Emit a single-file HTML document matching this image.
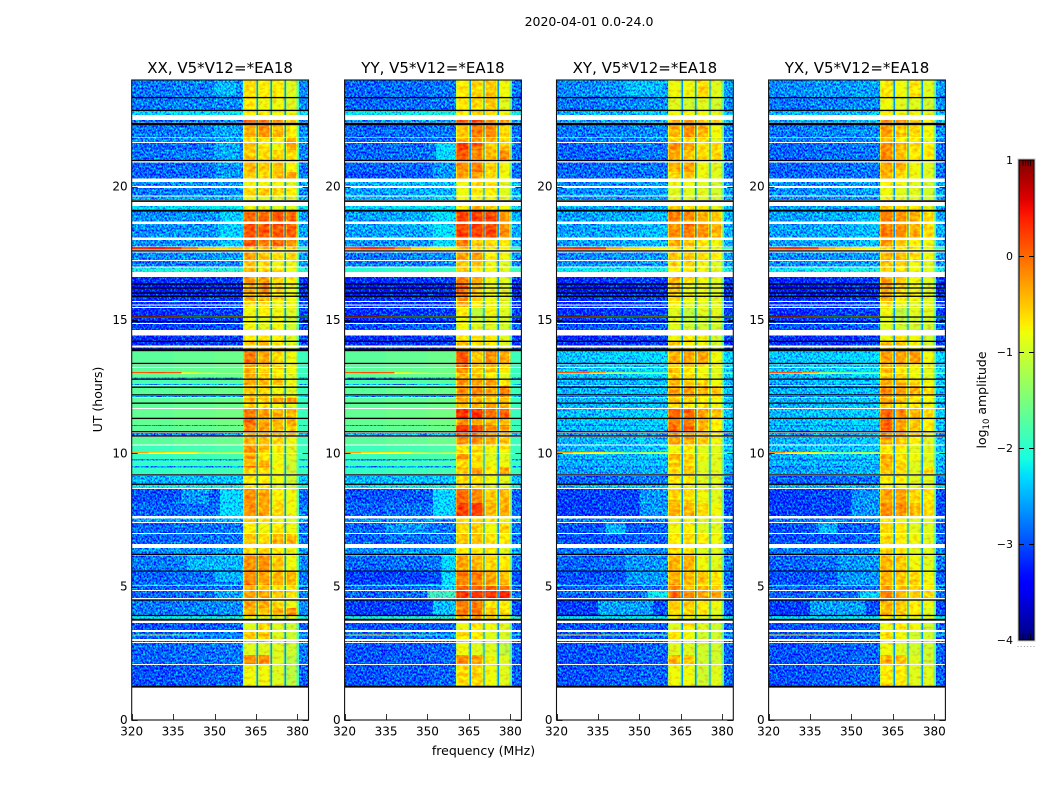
<!DOCTYPE html>
<html lang="en">
<head>
<meta charset="utf-8">
<title>2020-04-01 0.0-24.0</title>
<style>
html,body{margin:0;padding:0;background:#fff;width:1050px;height:800px;overflow:hidden}
svg{display:block}
text{font-family:"DejaVu Sans","Liberation Sans",sans-serif;fill:#000}
</style>
</head>
<body>
<svg id="figure" xmlns="http://www.w3.org/2000/svg" width="1050" height="800" viewBox="0 0 1050 800">
  <defs>
    <filter id="speckle" filterUnits="userSpaceOnUse" x="0" y="0" width="1050" height="800" color-interpolation-filters="sRGB">
      <feTurbulence type="fractalNoise" baseFrequency="0.55 0.5" numOctaves="2" seed="7" result="noise"/>
      <feColorMatrix in="noise" type="matrix" values="0 0 0 0 0.5  2.1 0 0 0 -0.55  0 0 0 0 0.5  0 0 0 0 1" result="gnoise"/>
      <feComposite in="gnoise" in2="SourceGraphic" operator="arithmetic" k1="0" k2="1" k3="1" k4="-0.5" result="mix"/>
      <feComposite in="mix" in2="SourceGraphic" operator="in"/>
    </filter>
    <filter id="ripple" filterUnits="userSpaceOnUse" x="0" y="0" width="1050" height="800" color-interpolation-filters="sRGB">
      <feTurbulence type="fractalNoise" baseFrequency="0.22 0.3" numOctaves="2" seed="11" result="noise"/>
      <feColorMatrix in="noise" type="matrix" values="0 0 0 0 0.5  0.7 0 0 0 0.15  0 0 0 0 0.5  0 0 0 0 1" result="gnoise"/>
      <feComposite in="gnoise" in2="SourceGraphic" operator="arithmetic" k1="0" k2="1" k3="1" k4="-0.5" result="mix"/>
      <feComposite in="mix" in2="SourceGraphic" operator="in"/>
    </filter>
    <linearGradient id="jet-gradient" x1="0" y1="1" x2="0" y2="0"></linearGradient>
  </defs>
  <text x="589" y="26" font-size="12.5" text-anchor="middle">2020-04-01 0.0-24.0</text>
  <text x="483.5" y="755" font-size="12.5" text-anchor="middle">frequency (MHz)</text>
  <text transform="translate(102 399.5) rotate(-90)" font-size="12.5" text-anchor="middle">UT (hours)</text>
  <g id="panels"></g>
  <g id="colorbar"></g>
  <text transform="translate(986 400) rotate(-90)" font-size="12.5" text-anchor="middle">log<tspan font-size="8.5" dy="3">10</tspan><tspan dy="-3"> amplitude</tspan></text>
</svg>
<script>
/* ---- chart data ---- */
const panelTitles = ["XX, V5*V12=*EA18","YY, V5*V12=*EA18","XY, V5*V12=*EA18","YX, V5*V12=*EA18"];
const xTickValues = [320,335,350,365,380];
const yTickValues = [0,5,10,15,20];
const colorbarTicks = [1,0,-1,-2,-3,-4];

/* frequency channels (MHz) */
const backgroundEdges = [320,335,350,356,360.3];
const backgroundShape = [-0.1,-0.05,0,0];
const subbandEdges = [[360.3,365.2],[365.7,370.2],[370.7,375.3],[375.8,380]];
const subbandRim = 0.45;
const subbandRimDrop = 0.35;
const bandCalibration = 0.1;
const notchEdges = [[365.2,365.7],[370.2,370.7],[375.3,375.8]];
const notchLevel = -2.65;
const edgeBand = [380,380.6];
const edgeLevel = -1.9;
const tailBand = [380.6,384];

/* observation rows: [start UT, end UT]; gaps between rows are missing data */
const rowsUT = [[23.98,23.36],[23.33,22.88],[22.84,22.69],[22.50,22.40],[22.31,21.87],[21.84,21.68],[21.64,21.38],[21.38,21.00],[20.91,20.55],[20.55,20.30],
[20.18,20.03],[19.95,19.67],[19.63,19.50],[19.28,19.13],[19.06,18.69],[18.60,18.10],[18.00,17.75],[17.74,17.65],[17.53,17.25],[17.22,17.01],
[16.97,16.80],[16.61,16.35],[16.35,16.01],[16.01,15.71],[15.68,15.58],[15.54,15.49],[15.45,15.15],[15.15,15.11],[15.08,14.89],[14.85,14.63],
[14.42,14.21],[14.18,14.04],[13.97,13.92],[13.83,13.38],[13.33,13.24],[13.20,13.05],[13.05,13.00],[12.98,12.85],[12.85,12.81],[12.75,12.60],
[12.60,12.56],[12.54,12.19],[12.15,12.11],[12.09,11.89],[11.85,11.70],[11.66,11.33],[11.29,11.06],[11.06,11.03],[11.03,10.84],[10.76,10.65],
[10.61,10.33],[10.29,10.05],[10.05,9.99],[9.98,9.79],[9.79,9.73],[9.73,9.53],[9.53,9.47],[9.47,9.23],[9.15,8.85],[8.81,8.70],
[8.66,8.14],[8.14,7.65],[7.56,7.43],[7.39,7.01],[6.98,6.60],[6.45,6.23],[6.17,5.59],[5.55,5.10],[5.10,5.04],[5.03,4.88],
[4.84,4.58],[4.50,4.20],[4.20,3.92],[3.92,3.79],[3.64,3.38],[3.30,3.21],[3.21,3.17],[3.17,3.03],[2.97,2.93],[2.89,2.44],
[2.44,2.10],[2.06,1.24]];

/* log10 amplitude per row: [background, sub-band 1, 2, 3, 4] */
const levelsXX = [
[-2.7,-.7,-.8,-.8,-1],[-2.7,-.8,-.9,-.9,-1],[-2.2,-.8,-.8,-.9,-.9],[-2.7,0,-.1,-.4,-.6],[-2.7,-.5,-.3,-.5,-.8],[-2.6,-.7,-.8,-.8,-.5],[-2.8,-.6,-.8,-.9,-.4],[-2.7,-.6,-.7,-.7,-.7],[-2.8,-.5,-.6,-.6,-.8],[-2.8,-.6,-.7,-.5,-.4],
[-2.6,-.9,-.9,-.9,-1],[-2.7,-.7,-.6,-.7,-.8],[-2.5,-.9,-1,-1,-1],[-2.2,-.9,-1,-1,-1],[-2.6,-.1,-.1,0,-.1],[-2.6,0,0,0,-.05],[-2.6,0,-.2,-.1,-.3],[-1,-.6,-.7,-.7,-.7],[-2.6,-.4,-.6,-.7,-.7],[-2.7,-.6,-.7,-.9,-.9],
[-2,-.5,-.7,-.8,-.9],[-3.1,-.4,-.4,-.7,-.8],[-3.2,-.5,-.3,-.7,-.9],[-3.1,-.5,-.5,-.7,-.9],[-3.1,-.7,-.7,-.9,-.9],[-3,-.8,-.8,-.9,-.9],[-3.1,-.9,-.8,-.9,-1],[-1,-.9,-.9,-.9,-1],[-3.1,-.9,-1,-.9,-1.1],[-3,-.9,-1,-.9,-1.1],
[-3.1,-.8,-.8,-.8,-1],[-3.1,-.6,-.5,-.8,-1],[-3,-.7,-.7,-.8,-1],[-1.6,-.2,-.4,-.7,-.9],[-1.6,-.4,-.5,-.7,-.9],[-1.6,-.5,-.7,-.8,-.9],[-1,-.4,-.6,-.8,-.9],[-1.6,-.5,-.7,-.8,-1],[-2.5,-.5,-.6,-.8,-1],[-1.7,-.4,-.5,-.6,-.9],
[-2.5,-.4,-.5,-.6,-.9],[-1.6,-.6,-.7,-.9,-1],[-2.6,-.6,-.6,-.7,-.9],[-1.6,-.5,-.6,-.4,-.3],[-1.6,-.7,-.8,-.9,-1],[-1.55,-.2,-.4,-.5,-.5],[-1.55,-.1,-.4,-.5,-.5],[-2.6,-.2,-.4,-.5,-.5],[-1.6,-.3,-.4,-.6,-.6],[-2.6,-.5,-.5,-.6,-.7],
[-1.6,-.5,-.6,-.7,-.9],[-1.8,-.3,-.5,-.8,-1],[-1,-.4,-.7,-.9,-1],[-1.85,-.4,-.8,-.9,-1],[-2.6,-.6,-.8,-.9,-1.1],[-1.85,-.5,-.5,-.9,-1.1],[-2.6,-.1,-.3,-.8,-1.1],[-1.85,-.7,-.7,-.9,-1.1],[-2.4,-.8,-.8,-.9,-1.1],[-2.1,-.8,-.8,-1,-1.1],
[-2.9,-.3,-.4,-.8,-.9],[-2.8,-.3,-.4,-.7,-.9],[-2.5,-.7,-.8,-.9,-1],[-2.8,-.8,-.9,-.8,-.9],[-2.8,-.6,-.7,-.5,-.5],[-2.6,-.7,-.7,-.8,-.9],[-2.7,-.3,-.3,-.6,-.9],[-2.8,-.3,-.4,-.5,-.5],[-2.6,-.1,-.3,-.4,-.5],[-2.8,-.5,-.6,-.8,-.8],
[-2.8,-.4,-.4,-.6,-.7],[-2.7,-.4,-.4,-.7,-.9],[-2.7,-.5,-.6,-.5,-.3],[-2.1,-.9,-1,-1,-1],[-2.9,-1,-.7,-1,-1.1],[-2.8,-.7,-.7,-1,-1.1],[-1.8,-.4,-.5,-1,-1.1],[-2.8,-.6,-.6,-1,-1.1],[-2.8,-.5,-.5,-1,-1.1],[-2.8,-1,-1,-1,-1.1],
[-2.8,-.3,-.3,-1,-1.2],[-2.9,-.9,-.9,-1,-1.2]];
const levelsYY = [
[-2.8,-.8,-.7,-.6,-.9],[-2.8,-.8,-.7,-.6,-1],[-2.1,-.8,-.7,-.7,-.9],[-2.6,0,.1,-.3,-.5],[-2.8,-.6,-.2,-.3,-.7],[-2.8,-.5,-.4,-.5,-.7],[-2.8,.1,-.1,-.6,-.6],[-2.8,0,-.3,-.5,-.3],[-2.8,-.3,-.2,-.6,-.9],[-2.9,-.4,-.4,-.7,-.9],
[-2.4,-.9,-.7,-.8,-1],[-2.5,-.9,-.8,-.8,-1],[-2.4,-.9,-.9,-.9,-1],[-2.2,-.8,-.5,-.7,-.9],[-2.5,.1,.1,.1,-.3],[-2.5,.1,.1,.1,-.3],[-2.6,-.2,-.6,-.7,-.8],[-1,-.7,-.8,-.9,-.9],[-2.7,-.4,-.4,-.8,-.9],[-2.7,-.6,-.6,-.9,-1],
[-1.9,-.7,-.8,-.9,-1],[-3.1,-.2,-.5,-.9,-1],[-3.2,-.1,-.6,-.9,-1],[-3.1,-.3,-.7,-.9,-1],[-3.1,-.4,-.8,-.9,-1],[-3,-.5,-.8,-.9,-1],[-3.1,-.8,-1.2,-.9,-1],[-1,-.9,-1,-.9,-1],[-3.1,-.9,-1.1,-1,-1.1],[-2.9,-.9,-1,-1,-1.1],
[-3.1,-.8,-.8,-.8,-1],[-3.1,-.5,-.7,-.8,-1],[-3,-.6,-.7,-.8,-1],[-1.6,0,-.6,-.3,-.4],[-1.6,-.1,-.5,-.5,-.7],[-1.6,-.3,-.6,-.6,-.8],[-1,-.4,-.7,-.8,-.9],[-1.6,-.5,-.6,-.8,-1],[-2.5,-.5,-.6,-.8,-1],[-1.7,-.3,-.4,-.4,-.8],
[-2.5,-.3,-.4,-.4,-.8],[-1.6,-.3,-.3,-.4,-.2],[-2.6,-.3,-.3,-.4,-.3],[-1.6,-.4,-.5,-.7,-.6],[-1.6,-.6,-.5,-.4,-.5],[-1.55,.2,.2,-.1,-.1],[-1.55,-.3,-.4,-.5,-.5],[-2.6,.1,.1,-.2,-.1],[-1.6,.2,.1,-.3,-.4],[-2.4,-.1,-.2,-.4,-.6],
[-1.6,-.3,-.3,-.5,-.6],[-1.8,-.8,-.7,-.9,-.8],[-1,-.8,-.8,-1,-1],[-1.8,-.3,-.7,-1,-1],[-2.6,-.6,-.7,-1,-1],[-1.8,-.7,-.8,-.9,-.9],[-2.6,-.7,-.7,-.9,-.9],[-1.85,-.6,-.4,-.8,-.4],[-2.4,-.7,-.7,-.9,-1],[-2.1,-.7,-.7,-1,-1],
[-2.9,-.1,-.3,-.6,-.5],[-2.8,.1,.1,-.5,-.5],[-2.6,-.7,-.7,-.8,-.9],[-2.8,-.7,-.6,-.9,-.7],[-2.8,-.6,-.6,-.8,-.8],[-2.6,-.8,-.8,-.8,-1],[-2.8,-.4,-.5,-.7,-.8],[-3,-.2,-.2,-.4,-.6],[-2.6,-.3,-.3,-.5,-.5],[-2.8,-.1,-.1,-.1,-.2],
[-2.8,.2,.2,.2,.3],[-3,-.2,-.2,-.8,-.8],[-3,-.2,-.2,-.6,-.7],[-2,-.5,-.5,-.8,-.9],[-2.9,-.9,-.8,-.9,-1],[-2.8,-.7,-.8,-1,-1],[-1.8,-.6,-.8,-1,-1.1],[-2.8,-.7,-.8,-1,-1.1],[-2.8,-.7,-.8,-1,-1.1],[-2.9,-.9,-1,-1,-1.2],
[-2.9,-.3,-.4,-.9,-1],[-2.9,-.7,-.7,-.9,-1]];
const levelsXY = [
[-2.6,-.9,-.9,-.7,-1],[-2.7,-1,-1.1,-1,-1.1],[-2.4,-.9,-.9,-.9,-1],[-2.5,-.5,-.3,-.6,-.8],[-2.7,-.5,-.3,-.5,-.9],[-2.7,-.7,-.8,-.8,-1],[-2.8,-.3,-.4,-.7,-.7],[-2.8,-.4,-.6,-.7,-.7],[-2.8,-.5,-.4,-.9,-1],[-2.8,-.7,-.6,-.9,-1],
[-2.6,-.9,-.9,-1,-1.1],[-2.6,-1,-1,-1,-1.1],[-2.6,-1,-1,-1,-1.1],[-2.5,-.7,-.7,-.8,-1],[-2.5,-.2,-.3,-.5,-.6],[-2.5,-.3,-.2,-.3,-.5],[-2.5,-.5,-.6,-.8,-.9],[-1,-.8,-.8,-.9,-1],[-2.6,-.6,-.6,-.7,-.8],[-2.6,-.7,-.7,-.9,-1],
[-2.1,-.8,-.8,-.9,-1],[-3.1,-.5,-.7,-.9,-1],[-3.2,-.6,-.9,-.9,-1],[-3.1,-.7,-.9,-.9,-1],[-3.1,-.8,-1,-1,-1],[-3,-.9,-1,-1,-1],[-3.1,-1,-1.2,-1,-1],[-1,-1,-1.1,-1,-1],[-3,-1,-1.2,-1.1,-1.1],[-2.9,-1,-1.1,-1.1,-1.1],
[-3.1,-.9,-.8,-.9,-1.1],[-3.1,-.6,-.8,-.9,-1.1],[-3,-.7,-.8,-.9,-1.1],[-2.3,-.5,-.4,-.4,-.9],[-2.3,-.7,-.6,-.8,-.9],[-2.3,-.6,-.8,-.9,-1],[-1,-.6,-.8,-.9,-1],[-2.3,-.6,-.7,-.9,-1],[-2.6,-.6,-.7,-.9,-1],[-2.4,-.5,-.6,-.7,-.9],
[-2.6,-.5,-.6,-.7,-.9],[-2.4,-.4,-.4,-.5,-.6],[-2.7,-.4,-.4,-.6,-.7],[-2.4,-.6,-.7,-.8,-.9],[-2.4,-.8,-.8,-.8,-.9],[-2.35,-.1,-.1,-.4,-.6],[-2.35,-.2,-.2,-.5,-.8],[-2.7,-.2,-.2,-.6,-.8],[-2.4,-.1,-.1,-.5,-.8],[-2.5,-.3,-.4,-.6,-.8],
[-2.4,-.4,-.5,-.6,-.9],[-2.4,-.9,-.8,-1,-1],[-1,-.9,-1,-1,-1],[-2.4,-.5,-.6,-.9,-1],[-2.7,-.6,-.7,-.9,-1],[-2.4,-.7,-.7,-1,-1],[-2.7,-.6,-.5,-1,-1],[-2.5,-.7,-.6,-1,-1],[-2.8,-.8,-.8,-1,-1],[-2.4,-.9,-.9,-1,-1],
[-3,-.7,-.7,-.9,-1],[-3,-.5,-.5,-.7,-.9],[-2.7,-.9,-.9,-1,-1],[-2.9,-.9,-.8,-1,-1],[-2.9,-.8,-.7,-.8,-.9],[-2.7,-.7,-.8,-1,-1],[-2.8,-.5,-.5,-.9,-1],[-2.9,-.5,-.5,-.6,-.8],[-2.7,-.3,-.6,-.7,-.7],[-2.8,-.3,-.5,-.5,-.6],
[-2.8,-.1,-.3,-.4,-.4],[-3,-.6,-.6,-.8,-.9],[-3,-.7,-.7,-.8,-1],[-2.2,-.9,-.9,-1,-1],[-2.9,-1,-.8,-1,-1.1],[-2.9,-.8,-.9,-1.1,-1.1],[-1.8,-.6,-.9,-1.1,-1.1],[-2.9,-.8,-.9,-1.1,-1.1],[-2.9,-.8,-.9,-1.1,-1.1],[-2.9,-1,-1,-1.1,-1.1],
[-2.9,-.5,-.6,-1.1,-1.1],[-2.9,-.9,-.9,-1.1,-1]];
const levelsYX = [
[-2.6,-.8,-.9,-.8,-1],[-2.7,-.9,-1,-1,-1.1],[-2.4,-.8,-.9,-.9,-1],[-2.5,-.3,-.3,-.6,-.8],[-2.7,-.4,-.6,-.7,-.9],[-2.7,-.6,-.8,-.8,-1],[-2.8,-.3,-.5,-.7,-.8],[-2.8,-.3,-.6,-.8,-.8],[-2.8,-.4,-.5,-.9,-1],[-2.8,-.5,-.7,-.9,-1],
[-2.6,-.8,-.9,-1,-1.1],[-2.6,-.9,-1,-1,-1.1],[-2.6,-.9,-1,-1,-1.1],[-2.5,-.6,-.7,-.8,-1],[-2.5,-.2,-.3,-.5,-.7],[-2.5,-.2,-.3,-.5,-.7],[-2.5,-.4,-.6,-.8,-.9],[-1,-.7,-.8,-.9,-1],[-2.6,-.5,-.5,-.7,-.9],[-2.6,-.6,-.7,-.9,-1],
[-2.1,-.7,-.8,-.9,-1],[-3.1,-.4,-.6,-.9,-1],[-3.2,-.4,-.7,-.9,-1],[-3.1,-.5,-.8,-.9,-1],[-3.1,-.7,-.9,-1,-1],[-3,-.8,-1,-1,-1],[-3.1,-.9,-1.2,-1,-1],[-1,-.9,-1.1,-1,-1],[-3,-1,-1.2,-1.1,-1.1],[-2.9,-1,-1.1,-1.1,-1.1],
[-3.1,-.9,-.8,-.9,-1.1],[-3.1,-.6,-.6,-.9,-1.1],[-3,-.7,-.8,-.9,-1.1],[-2.3,-.4,-.4,-.4,-.9],[-2.3,-.5,-.6,-.8,-.9],[-2.3,-.5,-.8,-.9,-1],[-1,-.5,-.8,-.9,-1],[-2.3,-.6,-.7,-.9,-1],[-2.6,-.6,-.7,-.9,-1],[-2.4,-.4,-.5,-.6,-.9],
[-2.6,-.4,-.5,-.6,-.9],[-2.4,-.3,-.4,-.5,-.7],[-2.7,-.3,-.4,-.6,-.8],[-2.4,-.4,-.6,-.8,-.9],[-2.4,-.6,-.8,-.8,-.9],[-2.35,-.1,-.3,-.5,-.7],[-2.35,-.1,-.4,-.6,-.8],[-2.7,-.1,-.4,-.6,-.8],[-2.4,-.1,-.4,-.6,-.8],[-2.5,-.3,-.5,-.7,-.9],
[-2.4,-.4,-.6,-.8,-1],[-2.4,-.8,-.8,-1,-1],[-1,-.9,-1,-1,-1],[-2.4,-.4,-.7,-.9,-1],[-2.7,-.6,-.8,-.9,-1],[-2.4,-.5,-.7,-1,-1],[-2.7,-.5,-.6,-1,-.9],[-2.5,-.6,-.7,-1,-.7],[-2.8,-.8,-.8,-1,-1],[-2.4,-.8,-.9,-1,-1],
[-3,-.4,-.4,-.7,-.8],[-3,-.3,-.3,-.5,-.7],[-2.7,-.8,-.9,-1,-1],[-2.9,-.7,-.8,-1,-1],[-2.9,-.7,-.8,-.9,-1],[-2.7,-.7,-.8,-1,-1],[-2.8,-.5,-.6,-.9,-1],[-2.9,-.5,-.6,-.7,-.9],[-2.7,-.4,-.6,-.7,-.8],[-2.8,-.4,-.6,-.7,-.8],
[-2.8,-.2,-.5,-.6,-.7],[-3,-.5,-.6,-.8,-.9],[-3,-.5,-.6,-.8,-1],[-2.2,-.8,-.9,-1,-1],[-2.9,-.9,-.8,-.9,-1.1],[-2.9,-.8,-.9,-1.1,-1.1],[-1.8,-.6,-.9,-1.1,-1.1],[-2.9,-.8,-.9,-1.1,-1.1],[-2.9,-.8,-.9,-1.1,-1.1],[-2.9,-.9,-1,-1.1,-1.1],
[-2.9,-.5,-.6,-1,-1.1],[-2.9,-.8,-.8,-1,-1]];
const panelLevels = [levelsXX, levelsYY, levelsXY, levelsYX];

/* narrow-band interference: UT of row, levels per spike channel, per panel */
const spikeEdges = [320,326,332,338,344,350,355,360.3];
const spikeUT = [17.70,15.13,13.02,10.02,3.19];
const spikesXX = [[.3,.4,.3,-.1,-.5,-.6,-.5],[.1,.1,-.2,-1.5,-1.5,-1,-.7],[.1,.2,.1,-1,-1.3,-1.5,-1.5],[-.3,-.6,-.7,-.7,-1.2,-1.3,-1.2],[-1.4,-1,-1.3,-1.6,-2.2,-2.4,-2.4]];
const spikesYY = [[.1,.3,.2,-.2,-.6,-.7,-.8],[.1,.1,-.3,-1.4,-1.6,-1.2,-1],[.1,.2,.1,-1,-1.3,-1.5,-1.5],[-.3,-.6,-.7,-.8,-1.2,-1.4,-1.2],[-1.2,-.6,-.6,-1.2,-1.4,-1.9,-2.2]];
const spikesXY = [[.2,.3,.2,-.4,-.6,-.7,-.8],[.1,.1,-.4,-1.4,-1.6,-.9,-.8],[.1,.1,-.3,-1.4,-1.6,-1.8,-1.8],[-.3,-.6,-.7,-1.2,-1.6,-1.2,-1.2],[-.8,-.6,-.6,-1.2,-1.6,-1.4,-1.4]];
const spikesYX = [[.2,.3,.2,-.4,-.6,-.7,-.8],[.1,.1,-.4,-1.4,-1.6,-.9,-.8],[.1,.1,-.3,-1.4,-1.6,-1.8,-1.8],[-.2,-.6,-.7,-1.3,-1.6,-1.2,-1.2],[-.8,-.6,-.6,-1.2,-1.6,-1.4,-1.4]];
const panelSpikes = [spikesXX, spikesYY, spikesXY, spikesYX];

/* brighter background regions: [start UT, end UT, low MHz, high MHz, level] */
const patchesXX = [[23.97,23.43,350,358,-2.45],[22.3,21,350,359,-2.55],[20.9,20.3,350,360,-2.65],[19.06,17.75,352,360.3,-2.35],[8.66,7.65,352,360.3,-2.3],[8.66,8.1,338,348,-2.65],[6.17,5.62,340,360.3,-2.5],[5.55,5.18,350,360.3,-2.5],[4.84,4.58,350,360.3,-2.55]];
const patchesYY = [[21.64,21,353,360.3,-2.3],[20.9,20.3,352,360.3,-2.65],[19.06,17.75,352,360.3,-2.25],[8.66,7.65,352,360.3,-2.3],[7.39,7.01,335,350,-2.65],[6.17,4.88,355,360.3,-2.3],[4.84,4.58,350,360.3,-1.9],[4.5,3.92,352,360.3,-2.45]];
const patchesXY = [[23.97,23.43,345,358,-2.45],[19.06,17.75,352,360.3,-2.45],[8.66,7.65,350,360.3,-2.65],[7.39,7.01,338,345,-2.5],[6.17,5.1,345,360.3,-2.65],[4.84,4.58,353,360.3,-2.2],[4.5,3.92,335,355,-2.6]];
const patchesYX = [[19.06,17.75,352,360.3,-2.45],[8.66,7.65,350,360.3,-2.65],[7.39,7.01,338,345,-2.5],[6.17,5.1,345,360.3,-2.65],[4.84,4.58,353,360.3,-2.35],[4.5,3.92,335,355,-2.6]];
const panelPatches = [patchesXX, patchesYY, patchesXY, patchesYX];

/* flagged (black) integrations: [UT, duration hours] */
const flaggedUT = [[23.34,.05],[22.86,.05],[22.35,.09],[20.98,.05],[19.46,.06],[19.10,.07],[17.59,.05],[16.35,.05],[16.20,.05],[16.01,.05],[15.89,.05],[15.11,.05],[14.94,.05],[14.20,.05],[13.88,.10],[13.37,.05],[12.78,.05],[12.48,.05],[12.19,.05],[11.88,.05],[11.31,.05],[10.81,.05],[10.65,.05],[9.19,.05],[8.84,.05],[6.21,.05],[5.58,.05],[4.50,.05],[3.92,.05],[3.76,.07],[1.25,.07]];

/* ---- layout and scales ---- */
const axesLeft = [131.7,344.6,556.5,768.6];
const axesWidth = 176.8, axesTop = 80, axesHeight = 640;
const fMin = 320, fMax = 384, utMax = 24;
const cLeft = 1019, cWidth = 15, cTop = 160, cHeight = 480, cMin = -4, cMax = 1;
const NS = 'http://www.w3.org/2000/svg';
function xScale(panel, f){ return axesLeft[panel] + (f - fMin) / (fMax - fMin) * axesWidth; }
function yScale(ut){ return axesTop + (utMax - ut) / utMax * axesHeight; }
function cScale(v){ return cTop + (cMax - v) / (cMax - cMin) * cHeight; }
function lerpStops(stops, t){
  for (let i = 1; i < stops.length; i++) {
    if (t <= stops[i][0]) {
      const a = stops[i-1], b = stops[i];
      return a[1] + (b[1] - a[1]) * (t - a[0]) / (b[0] - a[0]);
    }
  }
  return stops[stops.length-1][1];
}
const jetRed = [[0,0],[.35,0],[.66,1],[.89,1],[1,.5]];
const jetGreen = [[0,0],[.125,0],[.375,1],[.64,1],[.91,0],[1,0]];
const jetBlue = [[0,.5],[.11,1],[.34,1],[.65,0],[1,0]];
function jet(v){
  const t = Math.max(0, Math.min(1, (v - cMin) / (cMax - cMin)));
  return 'rgb(' + [jetRed, jetGreen, jetBlue].map(function(s){ return Math.round(lerpStops(s, t) * 255); }).join(',') + ')';
}
function svgEl(tag, attrs, parent){
  const el = document.createElementNS(NS, tag);
  for (const k in attrs) el.setAttribute(k, attrs[k]);
  parent.appendChild(el);
  return el;
}
function addCell(group, panel, top, bottom, f0, f1, level){
  const y0 = yScale(top), y1 = yScale(bottom), x0 = xScale(panel, f0), x1 = xScale(panel, f1);
  const cell = svgEl('rect', {x:x0.toFixed(2), y:y0.toFixed(2), width:(x1-x0).toFixed(2), height:(y1-y0).toFixed(2), fill:jet(level)}, group);
  
  
}

/* ---- panels ---- */
const panelsRoot = document.getElementById('panels');
panelTitles.forEach(function(title, p){
  const g = svgEl('g', {}, panelsRoot);
  
  

  const noisy = svgEl('g', {filter:'url(#speckle)', 'shape-rendering':'crispEdges'}, g);
  
  
  const rippled = svgEl('g', {filter:'url(#ripple)', 'shape-rendering':'crispEdges'}, g);
  
  
  const smooth = svgEl('g', {'shape-rendering':'crispEdges'}, g);
  
  

  rowsUT.forEach(function(row, r){
    const top = row[0], bottom = row[1], lv = panelLevels[p][r];
    const bg = lv[0];
    const bgGroup = bg > -2 ? smooth : noisy;
    let spikeIndex = -1;
    spikeUT.forEach(function(u, i){ if (u <= top && u >= bottom) spikeIndex = i; });
    if (spikeIndex >= 0) {
      panelSpikes[p][spikeIndex].forEach(function(v, c){
        addCell(smooth, p, top, bottom, spikeEdges[c], spikeEdges[c+1], v);
      });
    } else {
      backgroundShape.forEach(function(off, c){
        addCell(bgGroup, p, top, bottom, backgroundEdges[c], backgroundEdges[c+1], bg + off);
      });
      if (bg <= -2) panelPatches[p].forEach(function(pt){
        const t = Math.min(top, pt[0]), b = Math.max(bottom, pt[1]);
        if (t > b) addCell(noisy, p, t, b, pt[2], pt[3], pt[4]);
      });
    }
    subbandEdges.forEach(function(edge, c){
      const core = lv[c+1] + bandCalibration;
      const rim = core - subbandRimDrop;
      addCell(rippled, p, top, bottom, edge[0], edge[0] + subbandRim, rim);
      addCell(rippled, p, top, bottom, edge[0] + subbandRim, edge[1] - subbandRim, core);
      addCell(rippled, p, top, bottom, edge[1] - subbandRim, edge[1], rim);
    });
    notchEdges.forEach(function(edge){
      addCell(smooth, p, top, bottom, edge[0], edge[1], notchLevel);
    });
    addCell(smooth, p, top, bottom, edgeBand[0], edgeBand[1], edgeLevel);
    addCell(bg > -2 ? smooth : noisy, p, top, bottom, tailBand[0], tailBand[1], Math.min(bg, -1.9));
  });

  flaggedUT.forEach(function(item){
    const y0 = yScale(item[0] + item[1] / 2), y1 = yScale(item[0] - item[1] / 2);
    const line = svgEl('rect', {x:axesLeft[p], y:y0.toFixed(2), width:axesWidth, height:(y1-y0).toFixed(2), fill:'#000'}, g);
    
    
  });

  const frame = svgEl('rect', {x:axesLeft[p], y:axesTop, width:axesWidth, height:axesHeight, fill:'none', stroke:'#111', 'stroke-width':1.1}, g);
  
  

  xTickValues.forEach(function(f){
    const x = Math.round(xScale(p, f)) + 0.5;
    const tb = svgEl('line', {x1:x, x2:x, y1:axesTop+axesHeight, y2:axesTop+axesHeight-6, stroke:'#000', 'stroke-width':0.8}, g);
    
    
    const label = svgEl('text', {x:xScale(p, f), y:735.5, 'font-size':12, 'text-anchor':'middle'}, g);
    label.textContent = f;
    
    
  });
  yTickValues.forEach(function(u){
    const y = Math.round(yScale(u)) + 0.5;
    const tl = svgEl('line', {x1:axesLeft[p], x2:axesLeft[p]+6, y1:y, y2:y, stroke:'#000', 'stroke-width':0.8}, g);
    
    
    const tr = svgEl('line', {x1:axesLeft[p]+axesWidth, x2:axesLeft[p]+axesWidth-6, y1:y, y2:y, stroke:'#000', 'stroke-width':0.8}, g);
    
    
    const label = svgEl('text', {x:axesLeft[p]-4, y:yScale(u)+4, 'font-size':12, 'text-anchor':'end'}, g);
    label.textContent = u;
    
    
  });
  const titleEl = svgEl('text', {x:axesLeft[p]+axesWidth/2, y:73, 'font-size':15, 'text-anchor':'middle'}, g);
  titleEl.textContent = title;
  
  
});

/* ---- colorbar ---- */
const grad = document.getElementById('jet-gradient');
for (let i = 0; i <= 50; i++) {
  const stop = svgEl('stop', {offset:(i*2)+'%', 'stop-color':jet(cMin + (cMax-cMin)*i/50)}, grad);
}
const cb = document.getElementById('colorbar');
const cbOuter = svgEl('rect', {x:cLeft-1, y:cTop-1, width:cWidth+2, height:cHeight+2, fill:'none', stroke:'#c4c4c4', 'stroke-width':1}, cb);


const cbFill = svgEl('rect', {x:cLeft, y:cTop, width:cWidth, height:cHeight, fill:'url(#jet-gradient)', stroke:'#000', 'stroke-width':1}, cb);


colorbarTicks.forEach(function(v){
  const y = Math.round(cScale(v)) + 0.5;
  if (v !== cMax && v !== cMin) {
    const a = svgEl('line', {x1:cLeft, x2:cLeft+5, y1:y, y2:y, stroke:'#000', 'stroke-width':1}, cb);
    
    
    const b = svgEl('line', {x1:cLeft+cWidth-5, x2:cLeft+cWidth, y1:y, y2:y, stroke:'#000', 'stroke-width':1}, cb);
    
    
  }
  const label = svgEl('text', {x:1013, y:cScale(v)+4, 'font-size':11, 'text-anchor':'end'}, cb);
  label.textContent = v < 0 ? '\u2212' + Math.abs(v) : String(v);
  
  
});
[1023,1025.5,1028,1030.5].forEach(function(x){
  const up = svgEl('line', {x1:x, x2:x, y1:cTop, y2:cTop+6, stroke:'#000', 'stroke-width':0.8}, cb);
  
  
  const dn = svgEl('line', {x1:x, x2:x, y1:cTop+cHeight-6, y2:cTop+cHeight, stroke:'#000', 'stroke-width':0.8}, cb);
  
  
});
const dots = svgEl('line', {x1:1017.5, x2:1035, y1:646.5, y2:646.5, stroke:'#999', 'stroke-width':1, 'stroke-dasharray':'1 2.2'}, cb);


</script>
</body>
</html>
